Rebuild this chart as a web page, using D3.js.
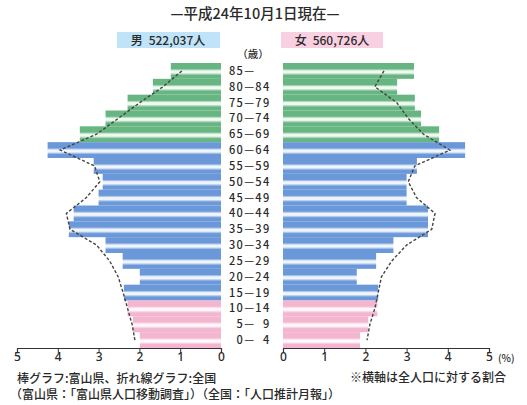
<!DOCTYPE html>
<html>
<head>
<meta charset="utf-8">
<script src="https://cdn.jsdelivr.net/npm/d3@7"></script>
<style>
  body { margin: 0; background: #fff; }
  text { font-family: "Noto Sans CJK JP", "Noto Sans", sans-serif; fill: #2a2a2a; font-weight: 500; }
</style>
</head>
<body>
<div id="root"></div>
<script>
// age groups, top to bottom
const ages = ["85—", "80—84", "75—79", "70—74", "65—69", "60—64", "55—59", "50—54", "45—49",
  "40—44", "35—39", "30—34", "25—29", "20—24", "15—19", "10—14", "\u20075—\u20079", "\u20070—\u20074"];

// colour group of each band: old / working / young
const groups = ["o", "o", "o", "o", "o", "w", "w", "w", "w",
  "w", "w", "w", "w", "w", "w", "y", "y", "y"];

// Toyama prefecture, % of total population (bars)
const maleToyama = [1.23, 1.67, 2.29, 2.83, 3.46, 4.25, 3.12, 2.90, 3.00,
  3.61, 3.73, 2.83, 2.41, 1.99, 2.38, 2.29, 2.16, 1.99];
const femaleToyama = [3.18, 2.77, 3.20, 3.35, 3.79, 4.42, 3.25, 3.00, 3.00,
  3.52, 3.52, 2.68, 2.26, 1.79, 2.31, 2.29, 2.07, 1.87];

// whole of Japan, % (dashed lines)
const maleJapan = [0.96, 1.42, 1.99, 2.52, 3.05, 3.94, 3.10, 2.97, 3.30,
  3.79, 3.70, 3.05, 2.73, 2.52, 2.40, 2.29, 2.18, 2.11];
const femaleJapan = [2.45, 2.23, 2.76, 3.04, 3.41, 4.05, 3.20, 3.04, 3.24,
  3.69, 3.61, 3.00, 2.64, 2.39, 2.31, 2.23, 2.11, 2.04];

const ticks = [0, 1, 2, 3, 4, 5];

const width = 527, height = 405;
const svg = d3.select("#root").append("svg")
  .attr("width", width).attr("height", height);

const colors = { o: "#67b681", w: "#6a98d8", y: "#f3b5cf" };

// striped gradients (light band through each bar)
const defs = svg.append("defs");
Object.keys(colors).forEach(function(k) {
  const g = defs.append("linearGradient").attr("id", "g" + k)
    .attr("x1", 0).attr("y1", 0).attr("x2", 0).attr("y2", 1);
  const c = colors[k];
  const light = d3.interpolateRgb(c, "#fff")(0.9);
  [[0, c], [0.36, c], [0.5, light], [0.62, light], [0.78, c], [1, c]].forEach(function(s) {
    g.append("stop").attr("offset", s[0]).attr("stop-color", s[1]);
  });
});

const y = d3.scaleBand().domain(ages).range([63, 348]);
const xL = d3.scaleLinear().domain([0, 5]).range([221, 17]);
const xR = d3.scaleLinear().domain([0, 5]).range([283, 489]);

// bars
svg.append("g").selectAll("rect").data(ages).enter().append("rect")
  .attr("x", (d, i) => xL(maleToyama[i]))
  .attr("y", d => y(d))
  .attr("width", (d, i) => xL(0) - xL(maleToyama[i]))
  .attr("height", y.bandwidth())
  .attr("fill", (d, i) => "url(#g" + groups[i] + ")");

svg.append("g").selectAll("rect").data(ages).enter().append("rect")
  .attr("x", xR(0))
  .attr("y", d => y(d))
  .attr("width", (d, i) => xR(femaleToyama[i]) - xR(0))
  .attr("height", y.bandwidth())
  .attr("fill", (d, i) => "url(#g" + groups[i] + ")");

// national lines
const cy = d => y(d) + y.bandwidth() / 2;
const lineL = d3.line().x((d, i) => xL(maleJapan[i])).y(d => cy(d));
const lineR = d3.line().x((d, i) => xR(femaleJapan[i])).y(d => cy(d));
[lineL, lineR].forEach(function(l) {
  svg.append("path").datum(ages).attr("d", l)
    .attr("fill", "none").attr("stroke", "#444")
    .attr("stroke-width", 1.4).attr("stroke-dasharray", "3,2");
});

// age labels
svg.append("g").selectAll("text").data(ages).enter().append("text")
  .attr("x", 229).attr("y", d => cy(d) + 4)
  .style("font-size", "11px").style("letter-spacing", "1.3px")
  .text(d => d);

// axes
const axL = d3.axisBottom(xL).tickValues(ticks).tickSize(5).tickFormat(d3.format("d"));
const axR = d3.axisBottom(xR).tickValues(ticks).tickSize(5).tickFormat(d3.format("d"));
[axL, axR].forEach(function(ax) {
  const g = svg.append("g").attr("transform", "translate(0,348)").call(ax);
  g.select(".domain").attr("stroke", "#333").attr("stroke-width", 1.2);
  g.selectAll(".tick line").attr("stroke", "#333");
  g.selectAll("text").attr("font-size", 12).attr("dy", "0.45em")
    .style("font-family", "\"Noto Sans\", sans-serif").attr("fill", "#2a2a2a");
});
svg.append("text").attr("x", 498).attr("y", 362).style("font-size", "10px").text("(%)");

// title and legend
svg.append("text").attr("x", 255).attr("y", 19).attr("text-anchor", "middle")
  .style("font-size", "14.5px").text("—平成24年10月1日現在—");

svg.append("rect").attr("x", 117).attr("y", 32).attr("width", 103).attr("height", 16).attr("fill", "#bfe3f8");
svg.append("text").attr("x", 168).attr("y", 44.5).attr("text-anchor", "middle")
  .style("font-size", "12px").text("男\u2002522,037人");
svg.append("rect").attr("x", 281).attr("y", 32).attr("width", 102).attr("height", 16).attr("fill", "#f9d0e1");
svg.append("text").attr("x", 332).attr("y", 44.5).attr("text-anchor", "middle")
  .style("font-size", "12px").text("女\u2002560,726人");

svg.append("text").attr("x", 253).attr("y", 58).attr("text-anchor", "middle")
  .style("font-size", "10.5px").text("（歳）");

// notes
svg.append("text").attr("x", 17).attr("y", 383).style("font-size", "12px")
  .text("棒グラフ:富山県、折れ線グラフ:全国");
svg.append("text").attr("x", 506).attr("y", 382).attr("text-anchor", "end").style("font-size", "12px")
  .text("※横軸は全人口に対する割合");
svg.append("text").attr("x", 10).attr("y", 399).style("font-size", "12px")
  .text("（富山県：「富山県人口移動調査」）（全国：「人口推計月報」）");
</script>
</body>
</html>
